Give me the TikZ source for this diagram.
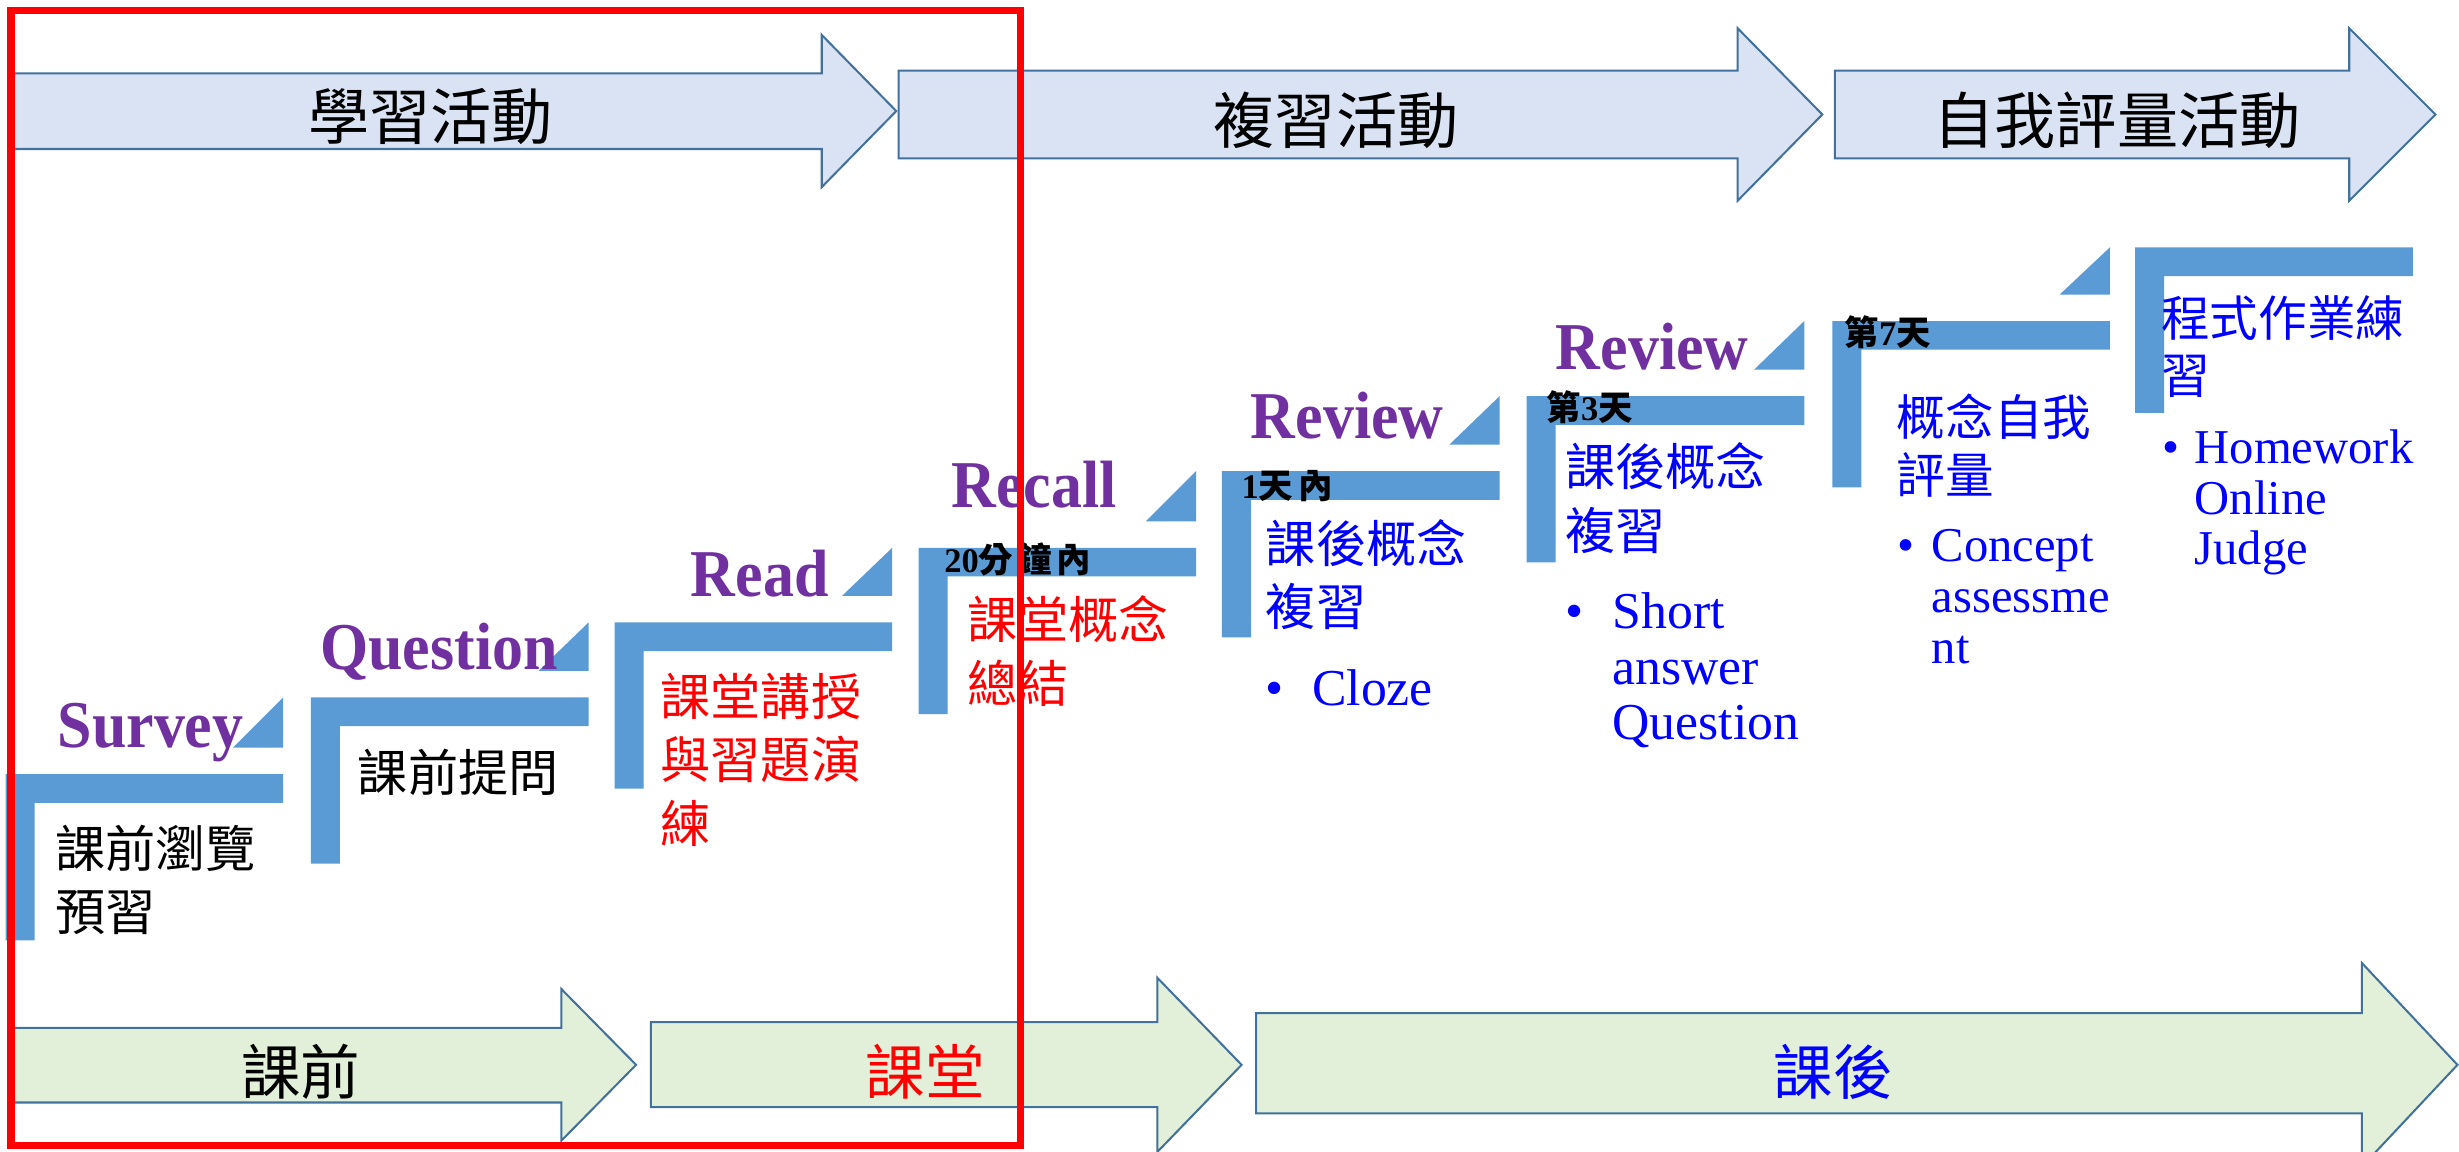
\documentclass[tikz,border=0pt]{standalone}
\usepackage{fontspec}
\setmainfont{Liberation Serif}
\newfontfamily\cjk{Noto Sans CJK TC}
\newfontfamily\cjkd[LetterSpace=12]{Noto Sans CJK TC}
\definecolor{stepblue}{HTML}{5B9BD5}
\definecolor{topfill}{HTML}{DAE3F3}
\definecolor{botfill}{HTML}{E2F0D9}
\definecolor{arrowline}{HTML}{41719C}
\definecolor{lblpurple}{HTML}{7030A0}
\definecolor{txtblue}{HTML}{0000FF}
\newcommand\mylines[1]{\begin{tabular}[t]{@{}l@{}}#1\end{tabular}}
\tikzset{
  toparrow/.style={fill=topfill, draw=arrowline, line width=1.3pt, line join=miter},
  botarrow/.style={fill=botfill, draw=arrowline, line width=1.3pt, line join=miter},
  lbl/.style={text=lblpurple, font=\bfseries\fontsize{39.5}{40}\selectfont, anchor=base, inner sep=0pt},
  hdr/.style={font=\cjk\fontsize{39}{40}\selectfont, inner sep=0pt, anchor=center},
  body/.style={anchor=base west, inner sep=0pt},
  cjkbig/.style={font=\cjk\fontsize{32}{40.6}\selectfont},
  cjksmall/.style={font=\cjk\fontsize{31}{36.2}\selectfont},
  day/.style={anchor=base west, inner sep=0pt, font=\bfseries\fontsize{22}{24}\selectfont},
  bul/.style={anchor=base west, inner sep=0pt, text=txtblue},
}
\begin{document}
\begin{tikzpicture}[x=1pt,y=-1pt]
\useasboundingbox (0,0) rectangle (1568,734);
\fill[white] (0,0) rectangle (1568,734);

% top arrows
\draw[toparrow] (6,46.8) -- (524,46.8) -- (524,22.3) -- (571.5,70.8) -- (524,119.3) -- (524,95) -- (6,95) -- cycle;
\draw[toparrow] (573,45) -- (1108,45) -- (1108,18) -- (1162,73) -- (1108,128) -- (1108,101) -- (573,101) -- cycle;
\draw[toparrow] (1170,45) -- (1498,45) -- (1498,18) -- (1553,73) -- (1498,128) -- (1498,101) -- (1170,101) -- cycle;
\node[hdr] (h1) at (274.6,74) {學習活動};
\node[hdr] (h2) at (852,77) {複習活動};
\node[hdr] (h3) at (1350,77) {自我評量活動};

% bottom arrows
\draw[botarrow] (6,655.4) -- (358,655.4) -- (358,630.7) -- (405.6,679) -- (358,727.3) -- (358,703) -- (6,703) -- cycle;
\draw[botarrow] (415,651.8) -- (738,651.8) -- (738,623.5) -- (791.7,679) -- (738,734.5) -- (738,706) -- (415,706) -- cycle;
\draw[botarrow] (801,646) -- (1506,646) -- (1506,614) -- (1567,679) -- (1506,744) -- (1506,710) -- (801,710) -- cycle;
\node[hdr, font=\cjk\fontsize{38}{40}\selectfont] (b1) at (191.7,683.5) {課前};
\node[hdr, font=\cjk\fontsize{38}{40}\selectfont, text=red] (b2) at (590,683.5) {課堂};
\node[hdr, font=\cjk\fontsize{38}{40}\selectfont, text=txtblue] (b3) at (1169,683.5) {課後};

% steps
\foreach \L/\T/\N in {3.6/493.6/444.7, 198.3/444.7/396.9, 391.9/396.9/349.3, 585.7/349.3/300.4, 779.2/300.4/252.6, 973.5/252.6/204.7, 1168.4/204.7/157.7}{
  \fill[stepblue] (\L,\T) -- (\L+177,\T) -- (\L+177,\T+18.3) -- (\L+18.5,\T+18.3) -- (\L+18.5,\T+106) -- (\L,\T+106) -- cycle;
  \fill[stepblue] (\L+177,\T-16.9) -- (\L+177,\N) -- (\L+145,\T-16.9) -- cycle;
}
\fill[stepblue] (1361.5,157.7) -- (1538.6,157.7) -- (1538.6,176) -- (1380,176) -- (1380,263.2) -- (1361.5,263.2) -- cycle;

% purple labels
\node[lbl] (survey) at (96,476.5) {\scalebox{1}[1.08]{Survey}};
\node[lbl] (question) at (280,427) {\scalebox{1}[1.08]{Question}};
\node[lbl] (read) at (484.4,380.5) {\scalebox{1}[1.08]{Read}};
\node[lbl] (recall) at (659.4,323.6) {\scalebox{1}[1.08]{Recall}};
\node[lbl] (review1) at (859,279.5) {\scalebox{1}[1.08]{Review}};
\node[lbl] (review2) at (1053.5,235.5) {\scalebox{1}[1.08]{Review}};

% day labels
\node[day] (d4) at (602,365) {20{\cjkd\bfseries 分鐘內}};
\node[day] (d5) at (791.5,318) {1{\cjkd\bfseries 天}\hspace{3pt}{\cjkd\bfseries 內}};
\node[day] (d6) at (986,268) {{\cjkd\bfseries 第}3{\cjkd\bfseries 天}};
\node[day] (d7) at (1176,220) {{\cjkd\bfseries 第}7{\cjkd\bfseries 天}};

% body texts
\node[body, cjkbig] (t1) at (35,553) {\mylines{課前瀏覽\\預習}};
\node[body, cjkbig] (t2) at (228,504.5) {\mylines{課前提問}};
\node[body, cjkbig, text=red] (t3) at (421,456) {\mylines{課堂講授\\與習題演\\練}};
\node[body, cjkbig, text=red] (t4) at (617,407.4) {\mylines{課堂概念\\總結}};
\node[body, cjkbig, text=txtblue] (t5) at (807,358.5) {\mylines{課後概念\\複習}};
\node[body, cjkbig, text=txtblue] (t6) at (998,309.6) {\mylines{課後概念\\複習}};
\node[body, cjksmall, text=txtblue] (t7) at (1209.4,277.5) {\mylines{概念自我\\評量}};
\node[body, cjksmall, text=txtblue] (t8) at (1378,214.8) {\mylines{程式作業練\\習}};

% bullet lists
\node[bul, font=\fontsize{33}{35.5}\selectfont] (bu5) at (807,449.6) {•};
\node[bul, font=\fontsize{33}{35.5}\selectfont] (l5) at (836.5,449.6) {\mylines{Cloze}};
\node[bul, font=\fontsize{33}{35.5}\selectfont] (bu6) at (998,400.7) {•};
\node[bul, font=\fontsize{33}{35.5}\selectfont] (l6) at (1028,400.7) {\mylines{Short\\answer\\Question}};
\node[bul, font=\fontsize{31}{32.3}\selectfont] (bu7) at (1210,358.2) {•};
\node[bul, font=\fontsize{31}{32.3}\selectfont] (l7) at (1231.6,358.2) {\mylines{Concept\\assessme\\nt}};
\node[bul, font=\fontsize{31}{32.3}\selectfont] (bu8) at (1379,295.5) {•};
\node[bul, font=\fontsize{31}{32.3}\selectfont] (l8) at (1399.2,295.5) {\mylines{Homework\\Online\\Judge}};

% red frame
\draw[red, line width=4.5pt] (7,6.5) rectangle (650.5,730.5);
\end{tikzpicture}
\end{document}
